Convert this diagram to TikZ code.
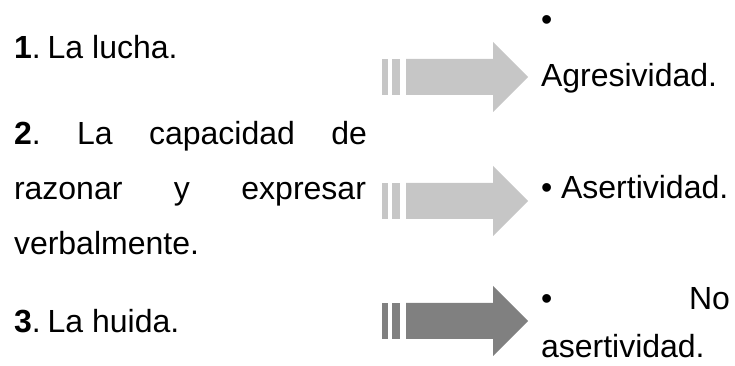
\documentclass[tikz,border=0pt]{standalone}
\usepackage{fontspec}
\setmainfont{Liberation Sans}
\definecolor{arrowlight}{HTML}{C6C6C6}
\definecolor{arrowdark}{HTML}{808080}
\tikzset{
  x=1pt, y=1pt,
  txt/.style={anchor=base west, inner sep=0pt, outer sep=0pt,
    font=\fontsize{32}{32}\selectfont},
  % striped block arrow: two thin bars, then a shaft with a triangular head
  blockarrow/.pic={
    \fill[pic actions] (0,-18) rectangle (6,18);
    \fill[pic actions] (10,-18) rectangle (18,18);
    \fill[pic actions] (24,-18) -- (111,-18) -- (111,-35) -- (146,0)
      -- (111,35) -- (111,18) -- (24,18) -- cycle;
  }
}
\begin{document}
\begin{tikzpicture}
\useasboundingbox (0,0) rectangle (735,366);

% left column: the three reactions
\node[txt] (l1) at (14,307) {\textbf{1}.\hspace{7pt}La lucha.};
\node[txt] (l2a) at (14,221) {\hbox to 353pt{\textbf{2}.\hfill La\hfill capacidad\hfill de}};
\node[txt] (l2b) at (14,166) {\hbox to 352pt{razonar\hfill y\hfill expresar}};
\node[txt] (l2c) at (14,111) {verbalmente.};
\node[txt] (l3) at (14,33) {\textbf{3}.\hspace{7pt}La huida.};

% arrows
\pic[fill=arrowlight] (a1) at (382,289) {blockarrow};
\pic[fill=arrowlight] (a2) at (382,165) {blockarrow};
\pic[fill=arrowdark] (a3) at (382,45) {blockarrow};

% right column: the resulting behaviours
\node[txt] (r1a) at (541,335) {\textbullet};
\node[txt] (r1b) at (541,279) {Agresividad.};
\node[txt] (r2) at (541,167) {\textbullet\ Asertividad.};
\node[txt] (r3a) at (541,56) {\hbox to 189pt{\textbullet\hfill No}};
\node[txt] (r3b) at (541,8) {asertividad.};
\end{tikzpicture}
\end{document}
